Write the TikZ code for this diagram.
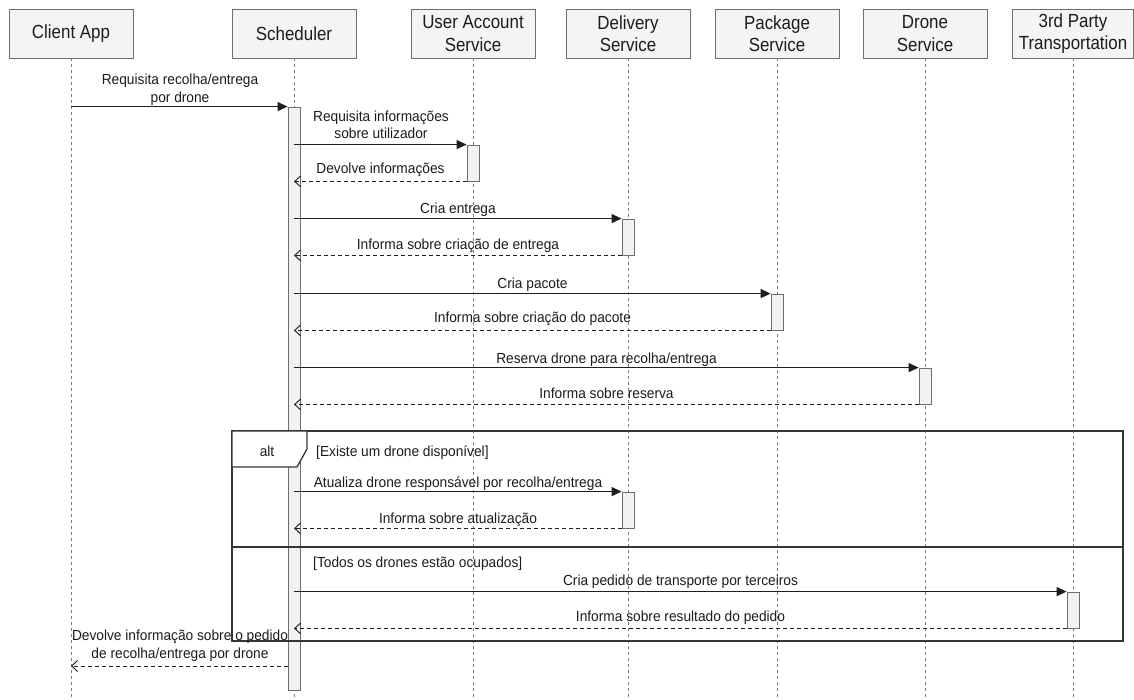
\documentclass[tikz,border=0pt]{standalone}
\usepackage{fontspec}
\setmainfont{Liberation Sans}
\newfontfamily\headfont[FakeStretch=0.89]{Liberation Sans}
\newfontfamily\labelfont[FakeStretch=0.94]{Liberation Sans}
\usetikzlibrary{arrows.meta}

\definecolor{boxfill}{HTML}{F4F4F4}
\definecolor{boxline}{HTML}{6E6E6E}
\definecolor{lifecol}{HTML}{7A7A7A}
\definecolor{ink}{HTML}{1E1E1E}
\definecolor{actfill}{HTML}{F2F2F2}
\definecolor{textcol}{HTML}{1C1C1C}

\tikzset{
  participant/.style={draw=boxline, fill=boxfill, line width=0.8pt,
    minimum width=124pt, minimum height=49pt, align=center, inner sep=2pt,
    text=textcol, font=\headfont\fontsize{19}{22.5}\selectfont},
  lifeline/.style={draw=lifecol, line width=0.8pt, dash pattern=on 3pt off 3pt},
  activation/.style={draw=boxline, fill=actfill, line width=0.8pt,
    minimum width=12pt, inner sep=0pt},
  msg/.style={draw=ink, line width=1.1pt, -{Triangle[length=10pt,width=9pt]}},
  reply/.style={draw=ink, line width=0.9pt, dash pattern=on 4pt off 3pt,
    -{Straight Barb[length=6pt,width=11pt]}},
  lbl/.style={font=\labelfont\fontsize{14.6}{17.5}\selectfont, text=textcol,
    inner sep=0pt, align=center},
  frameline/.style={draw=ink!90, line width=1.3pt},
}

\begin{document}
\begin{tikzpicture}[x=1pt,y=-1pt]
\useasboundingbox (0,0) rectangle (1134,700);
\fill[white] (0,0) rectangle (1134,700);

% participants
\node[participant] (client) at (71,33.5) {Client App};
\node[participant] (sched) at (294,33.5) {Scheduler};
\node[participant] (user) at (473,33.5) {User Account\\Service};
\node[participant] (deliv) at (628,33.5) {Delivery\\Service};
\node[participant] (pack) at (777,33.5) {Package\\Service};
\node[participant] (drone) at (925,33.5) {Drone\\Service};
\node[participant, minimum width=121pt] (third) at (1073,33.5) {3rd Party\\Transportation};

% lifeline ends
\coordinate (clientEnd) at (71,700);
\coordinate (schedEnd) at (294,700);
\coordinate (userEnd) at (473,700);
\coordinate (delivEnd) at (628,700);
\coordinate (packEnd) at (777,700);
\coordinate (droneEnd) at (925,700);
\coordinate (thirdEnd) at (1073,700);

\draw[lifeline] (client) -- (clientEnd);
\draw[lifeline] (sched) -- (schedEnd);
\draw[lifeline] (user) -- (userEnd);
\draw[lifeline] (deliv) -- (delivEnd);
\draw[lifeline] (pack) -- (packEnd);
\draw[lifeline] (drone) -- (droneEnd);
\draw[lifeline] (third) -- (thirdEnd);

% scheduler activation
\node[activation, minimum height=583pt] (schact) at (294,398.5) {};

% alt combined fragment
\draw[frameline] (232,431) rectangle (1123,641);
\filldraw[frameline, fill=white] (232,431) -- (307,431) -- (307,449) -- (297,467) -- (232,467) -- cycle;
\draw[frameline] (232,547) -- (1123,547);
\node[lbl] (alt) at (267,451) {alt};
\node[lbl, anchor=base west] (guardA) at (316,456) {[Existe um drone disponível]};
\node[lbl, anchor=base west] (guardB) at (313,567.5) {[Todos os drones estão ocupados]};

% activations of the services
\node[activation, minimum height=36pt] (useract) at (473,163) {};
\node[activation, minimum height=36pt] (delivact) at (628,237) {};
\node[activation, minimum height=36pt] (packact) at (777,312) {};
\node[activation, minimum height=36pt] (droneact) at (925,386) {};
\node[activation, minimum height=36pt] (delivactB) at (628,510) {};
\node[activation, minimum height=36pt] (thirdact) at (1073,610) {};

% messages
\draw[msg] (client |- schact.north) -- (schact.north west);
\node[lbl] (m1) at (180,89.5) {Requisita recolha/entrega\\por drone};

\draw[msg] (schact.center |- useract.north) -- (useract.north west);
\node[lbl] (m2) at (381,125) {Requisita informações\\sobre utilizador};
\draw[reply] (useract.south west) -- (schact.center |- useract.south);
\node[lbl, anchor=base] (r2) at (380.5,174) {Devolve informações};

\draw[msg] (schact.center |- delivact.north) -- (delivact.north west);
\node[lbl, anchor=base] (m3) at (458,214) {Cria entrega};
\draw[reply] (delivact.south west) -- (schact.center |- delivact.south);
\node[lbl, anchor=base] (r3) at (458,250) {Informa sobre criação de entrega};

\draw[msg] (schact.center |- packact.north) -- (packact.north west);
\node[lbl, anchor=base] (m4) at (532.5,289) {Cria pacote};
\draw[reply] (packact.south west) -- (schact.center |- packact.south);
\node[lbl, anchor=base] (r4) at (532.5,323) {Informa sobre criação do pacote};

\draw[msg] (schact.center |- droneact.north) -- (droneact.north west);
\node[lbl, anchor=base] (m5) at (606.5,363) {Reserva drone para recolha/entrega};
\draw[reply] (droneact.south west) -- (schact.center |- droneact.south);
\node[lbl, anchor=base] (r5) at (606.5,398) {Informa sobre reserva};

\draw[msg] (schact.center |- delivactB.north) -- (delivactB.north west);
\node[lbl, anchor=base] (m6) at (458,487) {Atualiza drone responsável por recolha/entrega};
\draw[reply] (delivactB.south west) -- (schact.center |- delivactB.south);
\node[lbl, anchor=base] (r6) at (458,523) {Informa sobre atualização};

\draw[msg] (schact.center |- thirdact.north) -- (thirdact.north west);
\node[lbl, anchor=base] (m7) at (680.5,585) {Cria pedido de transporte por terceiros};
\draw[reply] (thirdact.south west) -- (schact.center |- thirdact.south);
\node[lbl, anchor=base] (r7) at (680.5,621) {Informa sobre resultado do pedido};

\coordinate (clientReply) at (71,666);
\draw[reply] (schact.west |- clientReply) -- (clientReply);
\node[lbl] (m8) at (180,645.5) {Devolve informação sobre o pedido\\de recolha/entrega por drone};
\end{tikzpicture}
\end{document}
